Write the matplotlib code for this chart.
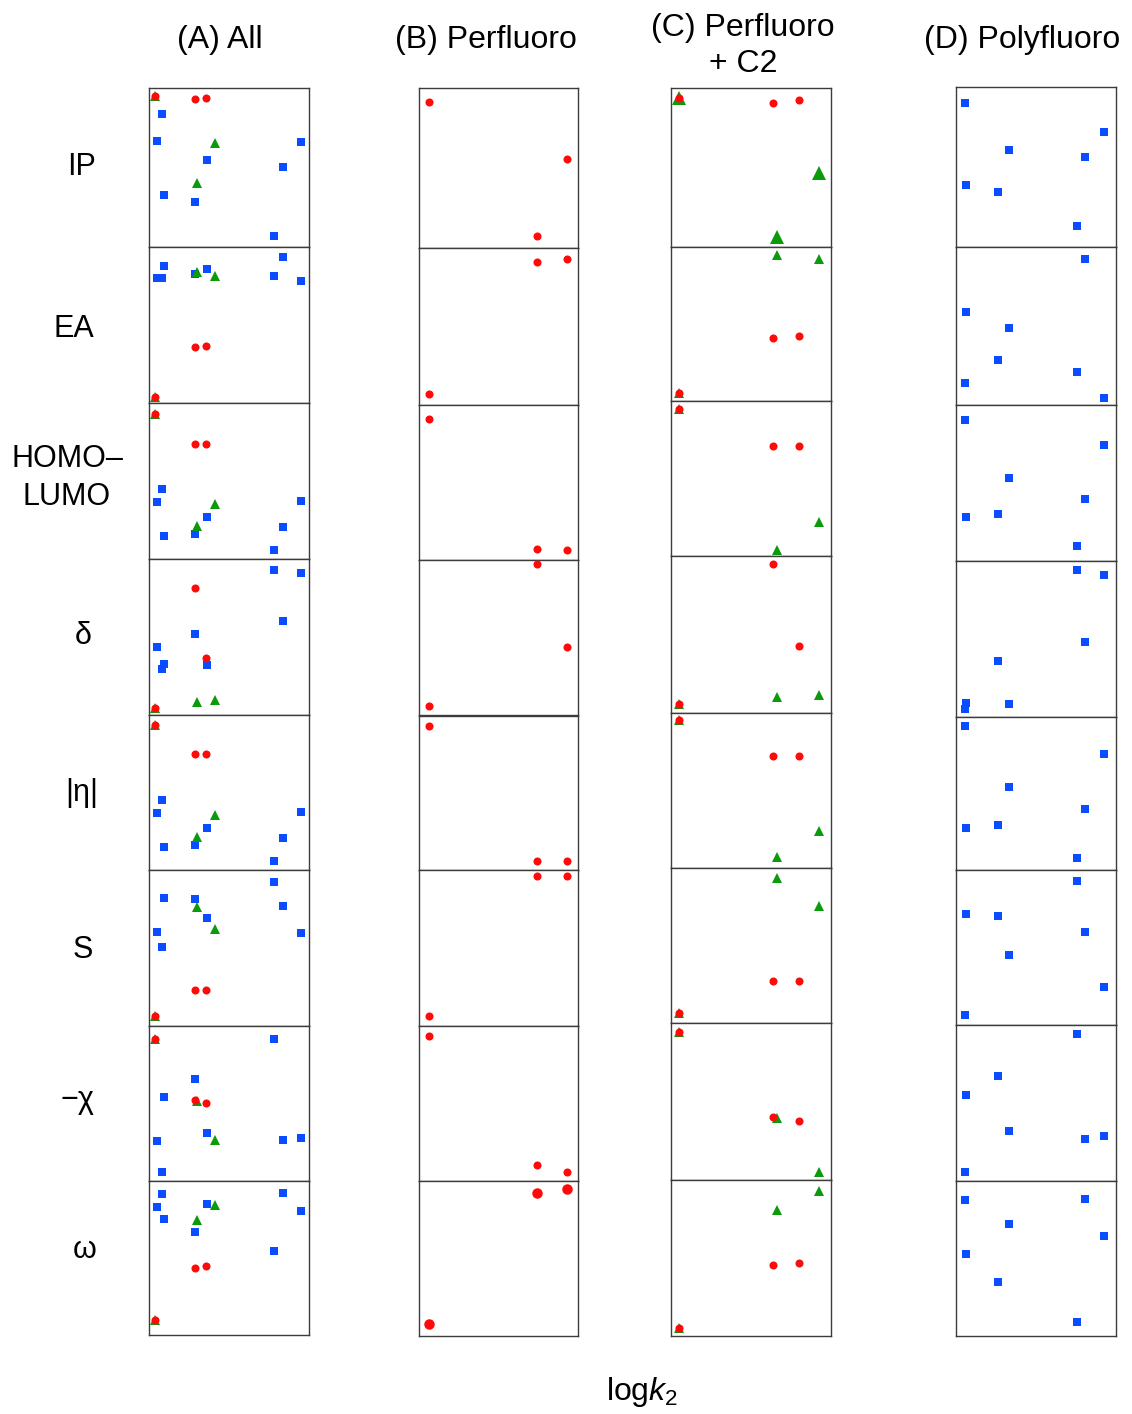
import matplotlib
matplotlib.use("Agg")
import matplotlib.pyplot as plt

plt.rcParams['font.family'] = ['Liberation Sans', 'DejaVu Sans']
plt.rcParams['mathtext.fontset'] = 'custom'
plt.rcParams['mathtext.rm'] = 'Liberation Sans'
plt.rcParams['mathtext.it'] = 'Liberation Sans:italic'

# ---------------- data (panel units) ----------------
descriptors = ["IP", "EA", "HOMO–\nLUMO", "δ", "|η|", "S", "−χ", "ω"]
panel_titles = ["(A) All", "(B) Perfluoro", "(C) Perfluoro\n+ C2", "(D) Polyfluoro"]
x_label = r"log$k_2$"

# Column A: All compounds  (logk2 per compound; descriptor per row)
a_red_x = [6.0, 46.3, 57.9]
a_green_x = [6.0, 48.1, 66.1]
a_blue_x = [8.7, 13.2, 15.1, 46.7, 58.0, 125.8, 134.1, 152.4]
a_red_y = [[151, 148, 149.3], [6.6, 56.3, 57.6], [144.7, 115.3, 115.3], [7.3, 126.6, 56.6],
           [145, 116, 116], [9.7, 35.7, 35.7], [142, 81, 78], [15, 67.6, 69.3]]
a_green_y = [[151, 64.3, 104.3], [6.6, 131, 127.3], [144.7, 33.3, 55], [7.3, 13, 14.6],
             [145, 33.6, 55], [9.7, 118.7, 96.7], [142, 79.7, 41], [15, 115, 130]]
a_blue_y = [[106, 133.3, 51.7, 45, 87.3, 11.3, 80, 105.3],
            [125, 125, 137.6, 129.3, 134.6, 127, 146.6, 122.6],
            [56.7, 70, 23.3, 24.7, 42.3, 9.3, 32, 58],
            [68, 46.3, 51, 81, 50, 145.3, 94.3, 142],
            [57, 70.3, 23.6, 25, 42.6, 9.6, 32, 58],
            [93.7, 79, 128, 127, 108, 144, 119.4, 92.4],
            [39.7, 9, 84, 101.7, 48.3, 142.3, 41, 43.3],
            [128, 141.6, 116.3, 103.3, 131, 84.3, 142.3, 124.6]]

# Column B: Perfluoro
b_red_x = [10.3, 118.0, 148.5]
b_red_y = [[146.4, 12.5, 88.8], [11, 142.5, 146], [140.4, 10.2, 9.8], [9.8, 151.8, 68.2],
           [143.7, 9.5, 9.5], [10.4, 149.9, 149.9], [144.5, 15.3, 9.1], [12.3, 142.4, 146.9]]

# Column C: Perfluoro + C2
c_red_x = [8.4, 101.7, 128.4]
c_green_x = [8.4, 105.7, 147.8]
c_red_y = [[148.9, 144.4, 146.9], [8.2, 63.2, 64.9], [147.3, 110.2, 110.2], [9, 149, 67],
           [148.1, 111.5, 111.5], [10.2, 42.3, 42.3], [148.1, 63.3, 59.2], [8.2, 70.4, 72.4]]
c_green_y = [[148.9, 10.2, 74.3], [8.2, 146.5, 142.4], [147.3, 6.1, 33.5], [9, 16, 18],
             [148.1, 10.7, 37], [10.2, 144.8, 117.2], [148.1, 62.1, 7.4], [8.2, 126.3, 144.4]]

# Column D: Polyfluoro
d_blue_x = [8.5, 10.0, 41.8, 53.3, 121.2, 129.3, 148.0]
d_blue_y = [[144, 62, 55.5, 97.5, 21.2, 90.6, 115.5],
            [21.2, 92.3, 44.9, 76.3, 32.7, 145.7, 6.9],
            [141.2, 43.7, 46.9, 83.2, 15.1, 62, 115.5],
            [7.7, 13.8, 55.9, 12.2, 146.9, 74.7, 142],
            [143.7, 42, 45.3, 83.2, 11.6, 60.9, 116.5],
            [10.3, 111.5, 109.5, 70, 143.6, 93, 37.9],
            [9.1, 86, 105, 49.4, 146.5, 42, 44.5],
            [135.4, 81.9, 53.9, 112.3, 13.6, 137, 99.6]]

# ---------------- styles / layout ----------------
RED, GREEN, BLUE = '#ff0a0a', '#0a9a0a', '#0a4cff'
STY = {
    'red': dict(marker='o', color=RED, ms=5.8, z=4),
    'green': dict(marker='^', color=GREEN, ms=7.0, z=3),
    'blue': dict(marker='s', color=BLUE, ms=5.2, z=2),
}

columns = [
    [('blue', a_blue_x, a_blue_y), ('green', a_green_x, a_green_y), ('red', a_red_x, a_red_y)],
    [('red', b_red_x, b_red_y)],
    [('green', c_green_x, c_green_y), ('red', c_red_x, c_red_y)],
    [('blue', d_blue_x, d_blue_y)],
]

col_lr = [(148.5, 308.5), (418.5, 578.0), (671.0, 830.5), (956.0, 1116.0)]
row_edges = [
    [88.0, 247.0, 403.3, 559.0, 715.0, 870.3, 1025.7, 1181.0, 1335.3],
    [88.0, 248.0, 404.5, 559.6, 715.5, 870.0, 1026.0, 1180.7, 1335.8],
    [88.2, 247.3, 401.2, 555.9, 712.5, 867.9, 1023.0, 1179.8, 1335.8],
    [87.3, 247.3, 404.5, 560.8, 716.6, 870.0, 1025.1, 1180.7, 1335.8],
]
# (column, row, group) -> marker size factor
size_scale = {(2, 0, 'green'): 1.35, (1, 7, 'red'): 1.3}

W, H = 1132, 1414
fig = plt.figure(figsize=(W / 100, H / 100), dpi=100)
fig.patch.set_facecolor('white')

for ci, groups in enumerate(columns):
    L, R = col_lr[ci]
    edges = row_edges[ci]
    for ri in range(len(descriptors)):
        T, B = edges[ri], edges[ri + 1]
        ax = fig.add_axes([L / W, 1 - B / H, (R - L) / W, (B - T) / H])
        ax.set_xlim(0, R - L)
        ax.set_ylim(0, B - T)
        ax.set_xticks([])
        ax.set_yticks([])
        for s in ax.spines.values():
            s.set_linewidth(1.0)
            s.set_color('#3c3c3c')
        for name, xs, ys in groups:
            st = STY[name]
            k = size_scale.get((ci, ri, name), 1.0)
            ax.plot(xs, ys[ri], linestyle='none', marker=st['marker'], color=st['color'],
                    markersize=st['ms'] * k, markeredgewidth=0, zorder=st['z'], clip_on=False)

# titles
title_pos = [(220, 40), (486, 40), (743, 46), (1022, 40)]
for (tx, ty), t in zip(title_pos, panel_titles):
    fig.text(tx / W, 1 - ty / H, t, ha='center', va='center', fontsize=23, linespacing=1.3)

# row labels
label_pos = [(81, 167), (74, 329), (67, 478), (83, 636), (82, 793), (83, 950), (77, 1100), (85, 1250)]
for (lx, ly), t in zip(label_pos, descriptors):
    fig.text(lx / W, 1 - ly / H, t, ha='center', va='center', fontsize=22, linespacing=1.35)

fig.text(642 / W, 1 - 1392 / H, x_label, ha='center', va='center', fontsize=23)

fig.savefig('out.png', dpi=100, facecolor='white')
